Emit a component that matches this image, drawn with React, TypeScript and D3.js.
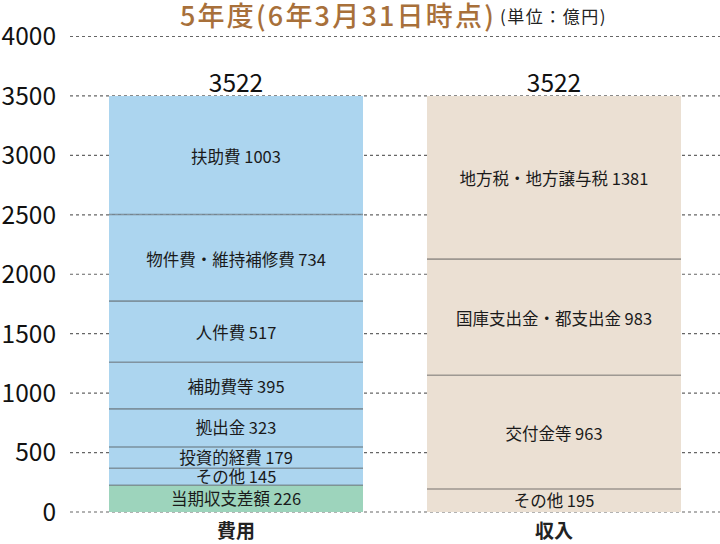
import React from "react";
import * as d3 from "d3";

const yTicks = [0, 500, 1000, 1500, 2000, 2500, 3000, 3500, 4000];
const categories = ["費用", "収入"];
const totals = [3522, 3522];

const expenseLabels = ["当期収支差額", "その他", "投資的経費", "拠出金", "補助費等", "人件費", "物件費・維持補修費", "扶助費"];
const expenseValues = [226, 145, 179, 323, 395, 517, 734, 1003];
const expenseColors = ["#9dd4bc", "#acd5ef", "#acd5ef", "#acd5ef", "#acd5ef", "#acd5ef", "#acd5ef", "#acd5ef"];

const incomeLabels = ["その他", "交付金等", "国庫支出金・都支出金", "地方税・地方譲与税"];
const incomeValues = [195, 963, 983, 1381];
const incomeColors = ["#ebe0d3", "#ebe0d3", "#ebe0d3", "#ebe0d3"];

const FONT = "'Noto Sans CJK JP', 'Noto Sans', sans-serif";

export default function App() {
  const W = 720;
  const H = 544;
  // axis / gridline scale
  const y = d3.scaleLinear().domain([0, 4000]).range([512, 36.5]);
  // bars in the reference are drawn so that the 3522 total reaches ~y=96
  const yb = d3.scaleLinear().domain([0, 3522]).range([512, 96]);
  const x = d3.scaleBand().domain(categories).range([109, 681]).paddingInner(64 / 318).paddingOuter(0);

  const stacks = [
    { labels: expenseLabels, values: expenseValues, colors: expenseColors },
    { labels: incomeLabels, values: incomeValues, colors: incomeColors },
  ];

  return (
    <svg width={W} height={H} style={{ display: "block", position: "absolute", left: 0, top: 0 }} fontFamily={FONT}>
      <rect width={W} height={H} fill="#ffffff" />
      <text x={180} y={26} textAnchor="start" fontSize={27} fill="#a8703a" fontWeight={500} letterSpacing={2.2}>
        5年度(6年3月31日時点)
      </text>
      <text x={500} y={22.5} textAnchor="start" fontSize={17} fill="#222" letterSpacing={1.5}>
        (単位：億円)
      </text>
      {yTicks.map((t) => (
        <g key={t}>
          <line x1={70} x2={720} y1={y(t)} y2={y(t)} stroke="#666" strokeWidth={1.2} strokeDasharray="3,3" />
          <text x={56} y={y(t)} dy="0.36em" textAnchor="end" fontSize={24.5} fill="#111">
            {t}
          </text>
        </g>
      ))}
      {stacks.map((s, i) => {
        const cat = categories[i];
        const x0 = x(cat) as number;
        const bw = x.bandwidth();
        const cum = d3.cumsum(s.values);
        return (
          <g key={cat}>
            {s.values.map((v, j) => {
              const lo = j === 0 ? 0 : cum[j - 1];
              const hi = cum[j];
              return (
                <rect key={j} x={x0} y={yb(hi)} width={bw} height={yb(lo) - yb(hi)} fill={s.colors[j]} />
              );
            })}
            {s.values.map((v, j) => {
              if (j === 0) return null;
              const lo = cum[j - 1];
              return (
                <line key={"s" + j} x1={x0} x2={x0 + bw} y1={yb(lo)} y2={yb(lo)} stroke="rgba(60,60,60,0.45)" strokeWidth={1.6} />
              );
            })}
            {s.values.map((v, j) => {
              const lo = j === 0 ? 0 : cum[j - 1];
              const hi = cum[j];
              const mid = (yb(lo) + yb(hi)) / 2 + (yb(lo) - yb(hi) > 40 ? 2 : 0.5);
              return (
                <text key={"t" + j} x={x0 + bw / 2} y={mid} dy="0.35em" textAnchor="middle" fontSize={16.5} fill="#1a1a1a">
                  {s.labels[j] + " " + v}
                </text>
              );
            })}
            <text x={x0 + bw / 2} y={92} textAnchor="middle" fontSize={24.5} fill="#111">
              {totals[i]}
            </text>
            <text x={x0 + bw / 2} y={531.5} dy="0.35em" textAnchor="middle" fontSize={19} fontWeight={700} fill="#222">
              {cat}
            </text>
          </g>
        );
      })}
    </svg>
  );
}
